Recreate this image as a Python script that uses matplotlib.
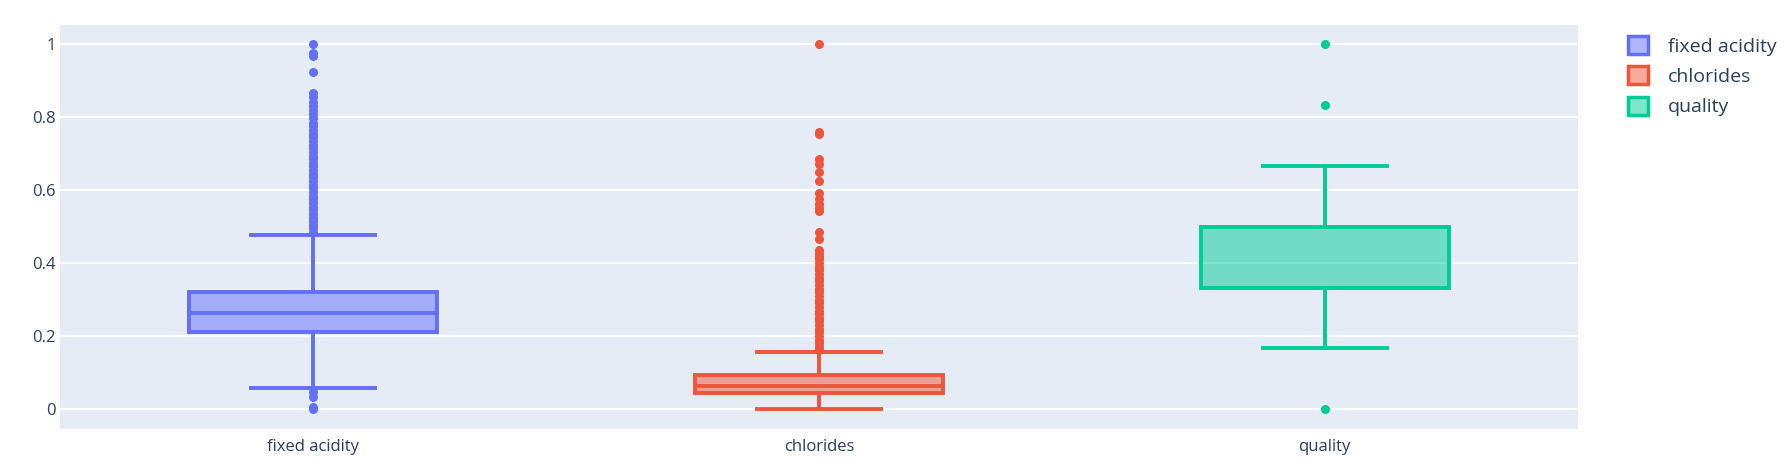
import matplotlib
matplotlib.use("Agg")
import matplotlib.pyplot as plt
from matplotlib.patches import Patch

# ------------------------------------------------------------------
# Data (normalised values, 0..1)
# ------------------------------------------------------------------
categories = ["fixed acidity", "chlorides", "quality"]
colors = ["#636efa", "#EF553B", "#00cc96"]

q1 = [0.212, 0.045, 0.333]
median = [0.262, 0.063, 0.5]
q3 = [0.322, 0.093, 0.5]
whisker_low = [0.057, 0.0, 0.167]
whisker_high = [0.478, 0.157, 0.667]

fliers_fixed_acidity = [1.0, 0.975, 0.968, 0.925, 0.866, 0.855, 0.843, 0.83,
                        0.82, 0.808, 0.797, 0.785, 0.775, 0.765, 0.755, 0.745,
                        0.735, 0.725, 0.715, 0.705, 0.695, 0.685, 0.675, 0.665,
                        0.655, 0.645, 0.635, 0.625, 0.615, 0.605, 0.595, 0.585,
                        0.575, 0.565, 0.555, 0.545, 0.535, 0.525, 0.515, 0.505,
                        0.495, 0.485, 0.047, 0.034, 0.006, 0.0]
fliers_chlorides = [1.0, 0.76, 0.755, 0.685, 0.672, 0.651, 0.626, 0.591, 0.575,
                    0.562, 0.552, 0.543, 0.484, 0.465, 0.436, 0.428, 0.42, 0.41,
                    0.40, 0.39, 0.38, 0.37, 0.36, 0.35, 0.34, 0.33, 0.32, 0.31,
                    0.30, 0.29, 0.28, 0.27, 0.26, 0.25, 0.24, 0.23, 0.22, 0.21,
                    0.20, 0.19, 0.18, 0.17, 0.162]
fliers_quality = [1.0, 0.833, 0.0]
fliers = [fliers_fixed_acidity, fliers_chlorides, fliers_quality]

y_ticks = [0, 0.2, 0.4, 0.6, 0.8, 1]
y_tick_labels = ["0", "0.2", "0.4", "0.6", "0.8", "1"]

# ------------------------------------------------------------------
# Plotly-ish look
# ------------------------------------------------------------------
text_color = "#2a3f5f"
plt.rcParams['font.family'] = ['Open Sans', 'DejaVu Sans']
plt.rcParams['font.size'] = 12

fig = plt.figure(figsize=(17.86, 4.68), dpi=100)
ax = fig.add_axes([0.0336, 0.0833, 0.8498, 0.8633])
ax.set_facecolor("#E5ECF6")
for s in ax.spines.values():
    s.set_visible(False)

ax.set_axisbelow(True)
ax.grid(axis='y', color='white', linewidth=1.5)

handles = []
for i, name in enumerate(categories):
    stats = [dict(label=name, q1=q1[i], med=median[i], q3=q3[i],
                  whislo=whisker_low[i], whishi=whisker_high[i], fliers=fliers[i])]
    c = colors[i]
    ax.bxp(stats, positions=[i], widths=0.49, capwidths=0.245, patch_artist=True,
           boxprops=dict(facecolor=matplotlib.colors.to_rgba(c, 0.5), edgecolor=c, linewidth=2.8),
           medianprops=dict(color=c, linewidth=2.8),
           whiskerprops=dict(color=c, linewidth=2.8),
           capprops=dict(color=c, linewidth=2.8),
           flierprops=dict(marker='o', markersize=6.5, markerfacecolor=c,
                           markeredgecolor=c, markeredgewidth=0))
    handles.append(Patch(facecolor=matplotlib.colors.to_rgba(c, 0.5), edgecolor=c,
                         linewidth=2.5, label=name))

ax.set_xlim(-0.5, 2.5)
ax.set_ylim(-0.055, 1.053)
ax.set_xticks(range(len(categories)))
ax.set_xticklabels(categories)
ax.set_yticks(y_ticks)
ax.set_yticklabels(y_tick_labels)
ax.tick_params(length=0, colors=text_color, labelsize=12)
ax.tick_params(axis='y', pad=3)
ax.tick_params(axis='x', pad=7)

# legend text is drawn a bit larger than the tick labels in the reference
fig.legend(handles=handles, loc='upper left', bbox_to_anchor=(0.9115, 0.923),
           frameon=False, borderaxespad=0, borderpad=0, handlelength=1.05,
           handleheight=1.05, handletextpad=1.0, labelspacing=0.55,
           labelcolor=text_color, fontsize=14)

fig.savefig("out.png", dpi=100, facecolor="white")
